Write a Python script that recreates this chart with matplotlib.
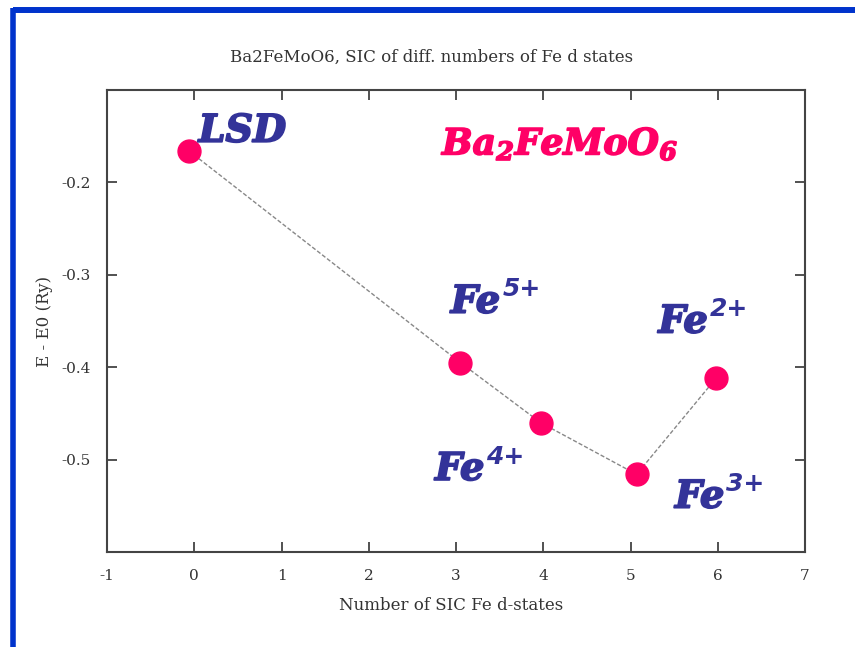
import matplotlib
matplotlib.use("Agg")
import matplotlib.pyplot as plt
import matplotlib.patheffects as pe
from matplotlib.lines import Line2D

# number of SIC Fe d-states and energy (Ry)
n_sic = [-0.06, 3.05, 3.97, 5.07, 5.98]
energy = [-0.166, -0.395, -0.460, -0.516, -0.412]

labels = ["LSD", "Fe", "Fe", "Fe", "Fe"]
sups = ["", "5+", "4+", "3+", "2+"]
label_x = [0.05, 2.94, 2.76, 5.51, 5.32]
label_y = [-0.156, -0.341, -0.522, -0.552, -0.3625]

xticks = [-1, 0, 1, 2, 3, 4, 5, 6, 7]
yticks = [-0.2, -0.3, -0.4, -0.5]

plt.rcParams["mathtext.fontset"] = "custom"
plt.rcParams["mathtext.rm"] = "DejaVu Serif:italic:bold"
plt.rcParams["mathtext.it"] = "DejaVu Serif:italic:bold"
plt.rcParams["mathtext.bf"] = "DejaVu Serif:italic:bold"

pink = "#ff0066"
navy = "#333399"
blue = "#0033cc"
grey = "#333333"
serif = "DejaVu Serif"

fig = plt.figure(figsize=(8.55, 6.47), dpi=100)
ax = fig.add_axes([107/855, 1 - 552/647, 698/855, 462/647])

# slide border
fig.add_artist(Line2D([12.5/855, 1], [1 - 10/647, 1 - 10/647], color=blue, lw=4.3,
                      transform=fig.transFigure, solid_capstyle="butt"))
fig.add_artist(Line2D([12.5/855, 12.5/855], [1 - 7.5/647, 0], color=blue, lw=4.0,
                      transform=fig.transFigure, solid_capstyle="butt"))

ax.plot(n_sic, energy, color="#888888", lw=1.0, linestyle=(0, (3, 1.5)), zorder=2)
ax.plot(n_sic, energy, "o", color=pink, markersize=16.5, zorder=3)

for lab, sup, lx, ly in zip(labels, sups, label_x, label_y):
    t = ax.text(lx, ly, lab, color=navy, fontsize=27.5, family="DejaVu Serif",
                weight="bold", style="italic", ha="left", va="baseline",
                path_effects=[pe.withStroke(linewidth=1.3, foreground=navy)])
    if sup:
        ax.annotate(sup, xy=(1, 1), xycoords=t, xytext=(1.5, 4.5), textcoords="offset points",
                    color=navy, fontsize=18, family="DejaVu Sans", weight="bold",
                    style="oblique", ha="left", va="top")

ax.text(2.84, -0.170, "Ba$_{2}$FeMoO$_{6}$", color=pink, fontsize=26,
        family="DejaVu Serif", weight="bold", style="italic", ha="left", va="baseline",
        path_effects=[pe.withStroke(linewidth=1.2, foreground=pink)])

ax.set_xlim(-1, 7)
ax.set_ylim(-0.6, -0.1)
ax.set_xticks(xticks)
ax.set_yticks(yticks)
ax.set_xticklabels([str(t) for t in xticks], family=serif, fontsize=11, color=grey)
ax.set_yticklabels(["%.1f" % t for t in yticks], family=serif, fontsize=11, color=grey)
ax.tick_params(direction="in", length=7, width=1.2, top=True, right=True, color=grey, pad=12)

for sp in ax.spines.values():
    sp.set_linewidth(1.5)
    sp.set_color("#444444")

fig.text(432/855, 1 - 57/647, "Ba2FeMoO6, SIC of diff. numbers of Fe d states", family=serif,
         fontsize=12, color=grey, ha="center", va="center")
ax.set_xlabel("Number of SIC Fe d-states", family=serif, fontsize=12, color=grey)
ax.xaxis.set_label_coords((451 - 107) / 698, (552 - 597) / 462)
ax.set_ylabel("E - E0 (Ry)", family=serif, fontsize=12, color=grey, labelpad=6)

fig.savefig("out.png", dpi=100)
